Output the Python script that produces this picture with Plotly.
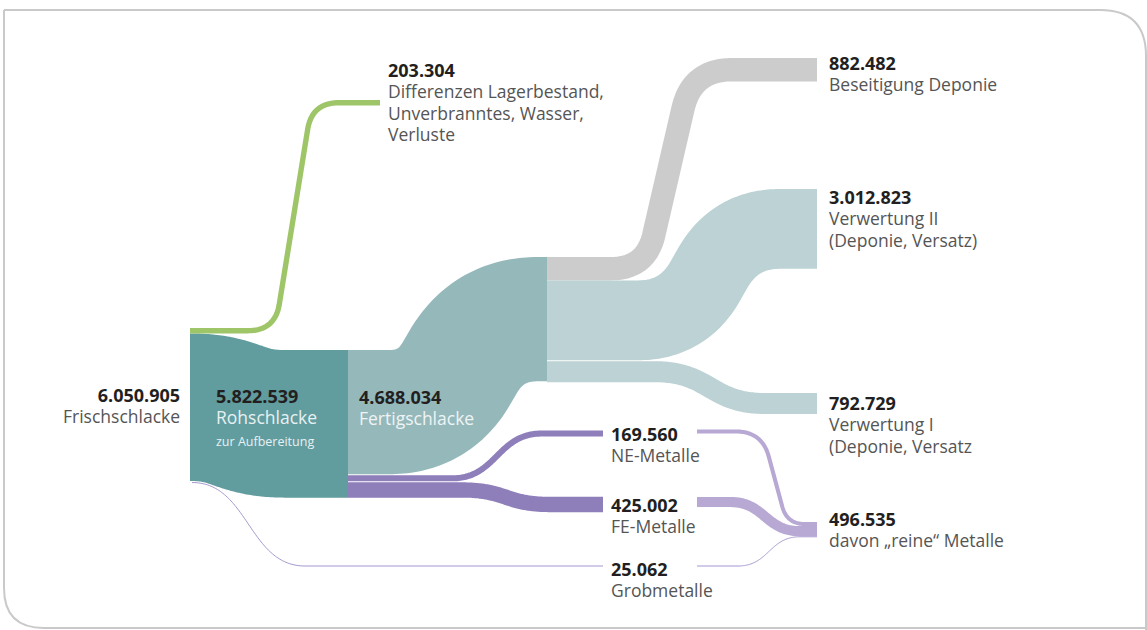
import numpy as np
import plotly.graph_objects as go

# ---------------- data (tonnes) ----------------
main_names = ["Frischschlacke", "Rohschlacke", "Fertigschlacke"]
main_values = [6050905, 5822539, 4688034]

loss_lines = ["Differenzen Lagerbestand,", "Unverbranntes, Wasser,", "Verluste"]
loss_value = 203304

fertig_out_lines = [["Beseitigung Deponie"],
                    ["Verwertung II", "(Deponie, Versatz)"],
                    ["Verwertung I", "(Deponie, Versatz"]]
fertig_out_values = [882482, 3012823, 792729]

metal_names = ["NE-Metalle", "FE-Metalle", "Grobmetalle"]
metal_values = [169560, 425002, 25062]

pure_metal_name = "davon \u201ereine\u201c Metalle"
pure_metal_value = 496535

# ---------------- scales / layout ----------------
K_MAIN = 26.5e-6    # px per tonne, slag flows
K_METAL = 36e-6     # px per tonne, metal flows (enlarged for legibility)
K_PURE = 24e-6      # px per tonne, metal shares into "reine Metalle"
GAP = 1.0

X_FRISCH, X_ROH, X_FERTIG, X_END = 190, 348, 547, 817
X_METAL_END, X_METAL_RIGHT = 603, 697
Y_FRISCH_TOP, Y_ROH_TOP, Y_FERTIG_TOP = 328, 350, 257
OUT_TOPS = [58, 189, 393]
METAL_CENTERS = [433.5, 504.5, 566]
PURE_TOP = 522

C_ROH = "#619c9f"
C_FERTIG = "#95b8bb"
C_OUT = ["#cccccc", "#bcd2d4", "#bcd2d4"]
C_GREEN = "#9fc569"
C_METAL = "#8e7eba"
C_METAL_LIGHT = "#b8a8d4"
C_GROB = "#a597cf"
FONT = "Open Sans"
C_VAL = "#231f20"
C_TXT = "#555555"
FS_VAL = 18
FS_TXT = 17.5
LINE_H = 21.3


def de(v):
    return f"{v:,}".replace(",", ".")


def fillet(pts, d, n=40):
    pts = [np.array(p, float) for p in pts]
    ds = d if isinstance(d, (list, tuple)) else [d] * (len(pts) - 2)
    xs, ys = [pts[0][0]], [pts[0][1]]
    for i in range(1, len(pts) - 1):
        p0, p1, p2 = pts[i - 1], pts[i], pts[i + 1]
        u = (p1 - p0) / np.linalg.norm(p1 - p0)
        v = (p2 - p1) / np.linalg.norm(p2 - p1)
        a = p1 - u * ds[i - 1]
        b = p1 + v * ds[i - 1]
        t = np.linspace(0, 1, n)[:, None]
        q = (1 - t) ** 2 * a + 2 * (1 - t) * t * p1 + t ** 2 * b
        xs += list(q[:, 0]); ys += list(q[:, 1])
    xs.append(pts[-1][0]); ys.append(pts[-1][1])
    return xs, ys


def s_curve(x0, x1, y0, y1, xa, xb, n=80):
    t = np.linspace(0, 1, n)
    cx = (xa + xb) / 2
    bx = (1 - t) ** 3 * xa + 3 * (1 - t) ** 2 * t * cx + 3 * (1 - t) * t ** 2 * cx + t ** 3 * xb
    by = (1 - t) ** 3 * y0 + 3 * (1 - t) ** 2 * t * y0 + 3 * (1 - t) * t ** 2 * y1 + t ** 3 * y1
    xs, ys = list(bx), list(by)
    if xa > x0:
        xs, ys = [x0] + xs, [y0] + ys
    if xb < x1:
        xs, ys = xs + [x1], ys + [y1]
    return xs, ys


fig = go.Figure()


def band(xy, width, color):
    xs, ys = xy
    px, py = [xs[0]], [ys[0]]
    for x, y in zip(xs[1:], ys[1:]):
        if abs(x - px[-1]) > 1e-6 or abs(y - py[-1]) > 1e-6:
            px.append(x); py.append(y)
    fig.add_trace(go.Scatter(x=px, y=py, mode="lines",
                             line=dict(width=max(width, 1.0), color=color, simplify=False, shape="linear"),
                             hoverinfo="skip", showlegend=False))


# widths
w_loss = loss_value * K_MAIN
w_fertig = main_values[2] * K_MAIN
w_out = [v * K_MAIN for v in fertig_out_values]
w_met = [v * K_METAL for v in metal_values]
w_pure = [v * K_PURE for v in metal_values]
w_roh = w_fertig + GAP + w_met[0] + GAP + w_met[1]

# Rohschlacke
roh_l = Y_FRISCH_TOP + w_loss + w_roh / 2
roh_r = Y_ROH_TOP + w_roh / 2
band(s_curve(X_FRISCH, X_ROH, roh_l, roh_r, X_FRISCH, 285), w_roh, C_ROH)

# Grobmetalle from Frischschlacke bottom
grob_y0 = Y_FRISCH_TOP + w_loss + w_roh + 1.5
band(s_curve(X_FRISCH + 2, X_METAL_END, grob_y0, METAL_CENTERS[2], X_FRISCH + 2, 305), w_met[2], C_GROB)

# Fertigschlacke
f_l = Y_ROH_TOP + w_fertig / 2
f_r = Y_FERTIG_TOP + w_fertig / 2
band(fillet([(X_ROH, f_l), (434, f_l), (488, f_r), (X_FERTIG, f_r)], [45, 50]), w_fertig, C_FERTIG)

# outputs of Fertigschlacke
y = Y_FERTIG_TOP
starts = []
for i, w in enumerate(w_out):
    if i == 2:
        y += GAP
    starts.append(y + w / 2)
    y += w
ends = [t + w / 2 for t, w in zip(OUT_TOPS, w_out)]
band(fillet([(X_FERTIG, starts[0]), (646, starts[0]), (692, ends[0]), (X_END, ends[0])], [35, 40]), w_out[0], C_OUT[0])
band(fillet([(X_FERTIG, starts[1]), (683, starts[1]), (735, ends[1]), (X_END, ends[1])], [45, 45]), w_out[1], C_OUT[1])
band(s_curve(X_FERTIG, X_END, starts[2], ends[2], 655, 765), w_out[2], C_OUT[2])

# metals from Rohschlacke
ne_y0 = Y_ROH_TOP + w_fertig + GAP + w_met[0] / 2
fe_y0 = Y_ROH_TOP + w_fertig + GAP + w_met[0] + GAP + w_met[1] / 2
band(s_curve(X_ROH, X_METAL_END, ne_y0, METAL_CENTERS[0], 452, 542), w_met[0], C_METAL)
band(s_curve(X_ROH, X_METAL_END, fe_y0, METAL_CENTERS[1], 462, 550), w_met[1], C_METAL)

# metal shares into "reine Metalle"
py = PURE_TOP
pc = []
for w in w_pure:
    w = max(w, 1.0)
    pc.append(py + w / 2)
    py += w
band(s_curve(X_METAL_RIGHT, X_END, METAL_CENTERS[2], pc[2], 738, 800), w_pure[2], C_GROB)
band(s_curve(X_METAL_RIGHT, X_END, METAL_CENTERS[1] - 2.5, pc[1], 730, 800), w_pure[1], C_METAL_LIGHT)
band(fillet([(X_METAL_RIGHT, METAL_CENTERS[0] - 2), (762, METAL_CENTERS[0] - 2), (787, pc[0]), (X_END, pc[0])], [26, 18]),
     w_pure[0], C_METAL_LIGHT)

# losses (green)
gy0 = Y_FRISCH_TOP + w_loss / 2
band(fillet([(X_FRISCH, gy0), (275, gy0), (312, 102.7), (380, 102.7)], 27), w_loss, C_GREEN)

# ---------------- labels ----------------
ann = []


def block(x, y_first, value, lines, anchor="left", color=C_TXT, sizes=None):
    """One annotation per label block: bold value line followed by text lines."""
    sizes = sizes or [FS_TXT] * len(lines)
    parts = [f"<b><span style='font-size:{FS_VAL}px;color:{C_VAL}'>{de(value)}</span></b>"]
    for s, fs in zip(lines, sizes):
        parts.append(f"<span style='font-size:{fs}px;color:{color}'>{s}</span>")
    n = len(parts)
    yc = y_first + (n - 1) * LINE_H / 2
    dx = -2 if anchor == "left" else 2
    ann.append(dict(x=x + dx, y=yc, xref="x", yref="y", text="<br>".join(parts),
                    showarrow=False, xanchor=anchor, yanchor="middle", align=anchor,
                    font=dict(family=FONT, size=LINE_H / 1.3, color=color)))


block(388, 70, loss_value, loss_lines)
block(829, 62.5, fertig_out_values[0], fertig_out_lines[0])
block(829, 197.5, fertig_out_values[1], fertig_out_lines[1])
block(829, 403.5, fertig_out_values[2], fertig_out_lines[2])
block(829, 518.5, pure_metal_value, [pure_metal_name])
for name, v, yc in zip(metal_names, metal_values, METAL_CENTERS):
    block(611, yc + (0 if yc < 560 else 2.5), v, [name])
block(180, 395, main_values[0], [main_names[0]], anchor="right")
block(216, 395.5, main_values[1], [main_names[1], "zur Aufbereitung"], color="#e8f1f1", sizes=[FS_TXT, 12.5])
block(359, 396.5, main_values[2], [main_names[2]], color="#eef4f4")

frame = dict(type="path", xref="x", yref="y",
             path="M 4,10 L 1100,10 Q 1146,10 1146,56 L 1146,640 M 4,10 L 4,588 Q 4,628 44,628 L 1160,628",
             line=dict(color="#c9c9c9", width=2), fillcolor="rgba(0,0,0,0)", layer="below")

fig.update_layout(
    width=1147, height=630, autosize=False,
    margin=dict(l=0, r=0, t=0, b=0),
    paper_bgcolor="white", plot_bgcolor="white",
    xaxis=dict(range=[0, 1147], visible=False, fixedrange=True),
    yaxis=dict(range=[630, 0], visible=False, fixedrange=True),
    annotations=ann, shapes=[frame],
)

fig.write_html("out.html", config={"displayModeBar": False},
               post_script="document.body.style.margin='0';document.body.style.overflow='hidden';")
